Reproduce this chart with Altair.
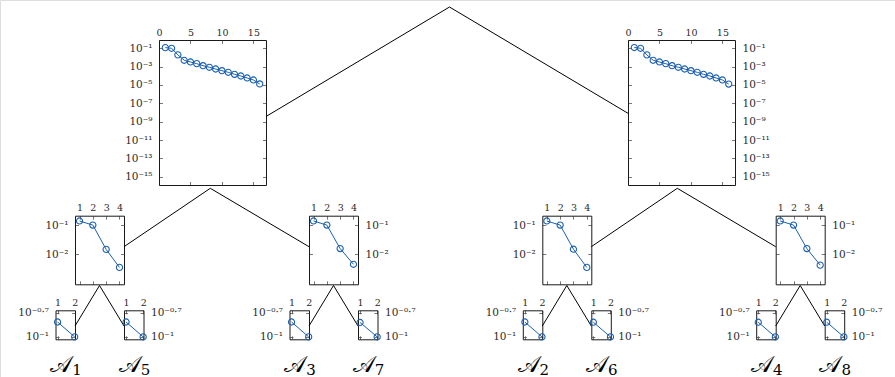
import altair as alt
import pandas as pd

# ---------------- data ----------------
big_x = list(range(1, 17))
big_left_y = [1.17e-1, 1.0e-1, 1.9e-2, 4.9e-3, 3.2e-3, 2.1e-3, 1.26e-3, 8.5e-4,
              5.5e-4, 3.6e-4, 2.4e-4, 1.45e-4, 9.5e-5, 5.8e-5, 3.5e-5, 1.3e-5]
big_right_y = [1.2e-1, 1.0e-1, 1.9e-2, 4.9e-3, 3.2e-3, 2.1e-3, 1.26e-3, 8.5e-4,
               5.5e-4, 3.6e-4, 2.4e-4, 1.45e-4, 9.5e-5, 5.8e-5, 3.5e-5, 1.25e-5]
mid_x = [1, 2, 3, 4]
mid_ll_y = [1.38e-1, 1.0e-1, 1.48e-2, 3.6e-3]
mid_lr_y = [1.38e-1, 1.0e-1, 1.58e-2, 4.6e-3]
mid_rl_y = [1.38e-1, 1.0e-1, 1.50e-2, 3.6e-3]
mid_rr_y = [1.38e-1, 1.0e-1, 1.58e-2, 4.3e-3]
small_x = [1, 2]
small_y = {1: [0.153, 0.1], 5: [0.153, 0.1], 3: [0.153, 0.1], 7: [0.151, 0.1],
           2: [0.153, 0.1], 6: [0.152, 0.1], 4: [0.152, 0.1], 8: [0.152, 0.1]}

big_xticks = [0, 5, 10, 15]
big_yexp = [-1, -3, -5, -7, -9, -11, -13, -15]
mid_xticks = [1, 2, 3, 4]
mid_yexp = [-1, -2]
small_xticks = [1, 2]
small_yexp = [-0.7, -1]
leaf_symbol = "𝒜"

# ---------------- layout / style ----------------
W, H = 895, 377
BLUE = "#1a5fb0"
FONT = "DejaVu Serif"
TXT = "#2a2a2a"
FRAME = "#1a1a1a"

BIG = dict(w=107, top=40, bottom=185, xdom=[0, 17], ydom=[10 ** -15.9, 10 ** -0.1],
           xticks=big_xticks, yexp=big_yexp)
MID = dict(w=49, top=215.7, bottom=284.3, xdom=[0.66, 4.34], ydom=[10 ** -3.02, 10 ** -0.68],
           xticks=mid_xticks, yexp=mid_yexp)
SMALL = dict(w=19.5, top=310.3, bottom=339.3, xdom=[0.88, 2.02], ydom=[10 ** -1.03, 10 ** -0.67],
             xticks=small_xticks, yexp=small_yexp)

SUP = str.maketrans("-0123456789.", "⁻⁰¹²³⁴⁵⁶⁷⁸⁹·")


def sup(e):
    return "10" + ("%g" % e).translate(SUP)


def label_expr(exps):
    parts = [f"abs(log(datum.value)/LN10 - ({e})) < 0.01 ? '{sup(e)}'" for e in exps]
    return " : ".join(parts) + " : ''"


def panel(x0, kind, xs, ys, side):
    g = kind
    x1 = x0 + g["w"]
    y0, y1 = g["top"], g["bottom"]
    yticks = [10 ** e for e in g["yexp"]]
    df = pd.DataFrame({"x": xs, "y": ys})

    def xs_(): return alt.Scale(domain=g["xdom"], range=[x0, x1], nice=False, zero=False)
    def ys_(): return alt.Scale(type="log", domain=g["ydom"], range=[y1, y0], nice=False)

    lab_common = dict(labelFont=FONT, labelColor=TXT, grid=False,
                      ticks=False, domain=False, labelFlush=False, labelOverlap=False,
                      title=None)
    line = alt.Chart(df).mark_line(color=BLUE, strokeWidth=1).encode(
        x=alt.X("x:Q", scale=xs_(), axis=alt.Axis(orient="top", offset=-y0, values=g["xticks"],
                                                  labelPadding=3, format="d", labelAngle=0,
                                                  labelFontSize=9.5, **lab_common)),
        y=alt.Y("y:Q", scale=ys_(), axis=alt.Axis(orient=side,
                                                  offset=(-x0 if side == "left" else x1 - W),
                                                  values=yticks, labelExpr=label_expr(g["yexp"]),
                                                  labelPadding=7, labelFontSize=10.5,
                                                  **lab_common)),
    )
    pts = alt.Chart(df).mark_point(shape="circle", filled=False, color=BLUE, size=38,
                                   strokeWidth=1.1, opacity=1).encode(
        x=alt.X("x:Q", scale=xs_(), axis=None),
        y=alt.Y("y:Q", scale=ys_(), axis=None),
    )
    tick_common = dict(labels=False, ticks=True, tickSize=3.5, tickWidth=0.8, tickColor="#555",
                       domain=True, domainColor=FRAME, domainWidth=1, grid=False, title=None)
    frame_a = alt.Chart(df).mark_line(opacity=0).encode(
        x=alt.X("x:Q", scale=xs_(), axis=alt.Axis(orient="bottom", offset=y0 - H,
                                                  values=g["xticks"], **tick_common)),
        y=alt.Y("y:Q", scale=ys_(), axis=alt.Axis(orient="right", offset=x0 - W,
                                                  values=yticks, **tick_common)),
    )
    frame_b = alt.Chart(df).mark_line(opacity=0).encode(
        x=alt.X("x:Q", scale=xs_(), axis=alt.Axis(orient="top", offset=-y1,
                                                  values=g["xticks"], **tick_common)),
        y=alt.Y("y:Q", scale=ys_(), axis=alt.Axis(orient="left", offset=-x1,
                                                  values=yticks, **tick_common)),
    )
    geom = dict(x0=x0, x1=x1, y0=y0, y1=y1, cx=(x0 + x1) / 2)
    return [frame_a, frame_b, line, pts], geom


layers = []
# big panels
big_specs = [(159, big_left_y, "left"), (628, big_right_y, "right")]
bigs = []
for x0, ys, side in big_specs:
    ls, gm = panel(x0, BIG, big_x, ys, side)
    layers += ls
    bigs.append(gm)

# mid panels: (x0, data, side, parent index)
mid_specs = [(75, mid_ll_y, "left", 0), (309, mid_lr_y, "right", 0),
             (542.3, mid_rl_y, "left", 1), (775.7, mid_rr_y, "right", 1)]
mids = []
for x0, ys, side, p in mid_specs:
    ls, gm = panel(x0, MID, mid_x, ys, side)
    layers += ls
    mids.append(gm)

# small panels: leaf id, side, parent mid index
small_specs = [(1, "left", 0), (5, "right", 0), (3, "left", 1), (7, "right", 1),
               (2, "left", 2), (6, "right", 2), (4, "left", 3), (8, "right", 3)]
smalls = []
for leaf, side, p in small_specs:
    pm = mids[p]
    x0 = pm["x0"] - SMALL["w"] if side == "left" else pm["x1"]
    ls, gm = panel(x0, SMALL, small_x, small_y[leaf], side)
    layers += ls
    gm["leaf"] = leaf
    smalls.append(gm)

# connectors of the tree
seg = []
apex = (449.5, 7)
seg.append((apex[0], apex[1], bigs[0]["x1"], 116.5))
seg.append((apex[0], apex[1], bigs[1]["x0"], 113.3))
big_apex = [(bigs[0]["cx"] - 2.2, 188.3), (bigs[1]["cx"] - 4.2, 188.3)]
for (x0, ys, side, p), gm in zip(mid_specs, mids):
    ax, ay = big_apex[p]
    seg.append((ax, ay, gm["x1"] if side == "left" else gm["x0"], 246.7))
for (leaf, side, p), gm in zip(small_specs, smalls):
    pm = mids[p]
    seg.append((pm["cx"], 285.5, gm["x1"] if side == "left" else gm["x0"], 326))
edges = pd.DataFrame(seg, columns=["x", "y", "x2", "y2"])
conn = alt.Chart(edges).mark_rule(color="black", strokeWidth=1).encode(
    x=alt.X("x:Q", scale=None, axis=None), y=alt.Y("y:Q", scale=None, axis=None),
    x2="x2:Q", y2="y2:Q")

# leaf labels
lab = pd.DataFrame({
    "t": [leaf_symbol] * len(smalls),
    "s": [str(gm["leaf"]) for gm in smalls],
    "x": [gm["cx"] - 4 for gm in smalls],
    "y": [371.5] * len(smalls),
})
lab_main = alt.Chart(lab).mark_text(font=FONT, fontSize=23, color="black", align="center",
                                    baseline="alphabetic").encode(
    x=alt.X("x:Q", scale=None, axis=None), y=alt.Y("y:Q", scale=None, axis=None), text="t:N")
lab_sub = alt.Chart(lab).mark_text(font=FONT, fontSize=15, color="black", align="left",
                                   baseline="alphabetic", dx=11, dy=3).encode(
    x=alt.X("x:Q", scale=None, axis=None), y=alt.Y("y:Q", scale=None, axis=None), text="s:N")

chart = alt.layer(conn, *layers, lab_main, lab_sub).resolve_scale(
    x="independent", y="independent"
).properties(
    width=W, height=H, autosize=alt.AutoSizeParams(type="none"), padding=0
).configure_view(strokeWidth=0).configure(background="white")

chart.save("out.html", embed_options={"renderer": "svg", "actions": False})
